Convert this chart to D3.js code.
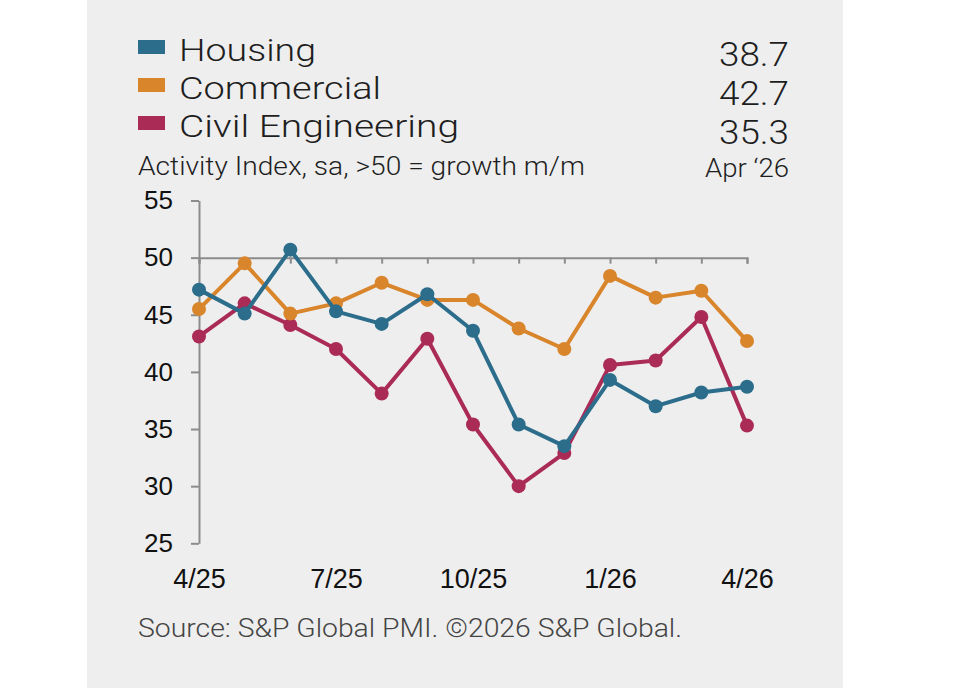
<!DOCTYPE html>
<html>
<head>
<meta charset="utf-8">
<script src="https://cdn.jsdelivr.net/npm/d3@7"></script>
<style>
  html, body { margin: 0; padding: 0; background: #ffffff; }
  svg { display: block; }
</style>
</head>
<body>
<svg id="chart" width="960" height="698"></svg>
<script>
// ---- Data ----
const months = ["4/25","5/25","6/25","7/25","8/25","9/25","10/25","11/25","12/25","1/26","2/26","3/26","4/26"];
const labelMonths = ["4/25","7/25","10/25","1/26","4/26"];
const yTicks = [25, 30, 35, 40, 45, 50, 55];
const seriesNames = ["Housing", "Commercial", "Civil Engineering"];
const housing    = [47.2, 45.1, 50.7, 45.3, 44.2, 46.8, 43.6, 35.4, 33.5, 39.3, 37.0, 38.2, 38.7];
const commercial = [45.5, 49.5, 45.1, 46.0, 47.8, 46.3, 46.3, 43.8, 42.0, 48.4, 46.5, 47.1, 42.7];
const civil      = [43.1, 46.0, 44.1, 42.0, 38.1, 42.9, 35.4, 30.0, 32.9, 40.6, 41.0, 44.8, 35.3];
const latestLabel = "Apr \u201826";
const subtitle = "Activity Index, sa, >50 = growth m/m";
const source = "Source: S&P Global PMI. \u00A92026 S&P Global.";

const colors = ["#2b6d8b", "#d9852c", "#ab2b57"];
const seriesValues = [housing, commercial, civil];

// ---- Layout ----
const svg = d3.select("#chart");
svg.append("rect").attr("x", 87).attr("y", 0).attr("width", 756).attr("height", 688).attr("fill", "#eeeeee");

const x = d3.scalePoint().domain(months).range([199, 747]);
const y = d3.scaleLinear().domain([25, 55]).range([543.3, 200.5]);

const axisColor = "#8c8c8c";

// Y axis
const gy = svg.append("g").attr("transform", "translate(199,0)")
  .call(d3.axisLeft(y).tickValues(yTicks).tickSize(8).tickSizeOuter(0).tickPadding(18).tickFormat(d3.format("d")));
gy.selectAll("path, line").attr("stroke", axisColor).attr("stroke-width", 2);
gy.selectAll("text").attr("font-family", "Liberation Sans, Arial, sans-serif").attr("font-size", 26).attr("fill", "#111");

// X axis line at 50
const gx = svg.append("g").attr("transform", `translate(0,${y(50)})`)
  .call(d3.axisBottom(x).tickSize(6).tickSizeOuter(6).tickFormat(""));
gx.selectAll("path, line").attr("stroke", axisColor).attr("stroke-width", 2);

// X labels at bottom
const gl = svg.append("g").attr("transform", "translate(0,588)")
  .call(d3.axisBottom(x).tickValues(labelMonths).tickSize(0).tickPadding(0));
gl.select(".domain").remove();
gl.selectAll("text").attr("y", 0).attr("dy", 0)
  .attr("font-family", "Liberation Sans, Arial, sans-serif").attr("font-size", 27).attr("fill", "#111");

// Series (draw Civil, Commercial, Housing so Housing on top)
const line = d3.line().x((d, i) => x(months[i])).y(d => y(d));
[2, 1, 0].forEach(si => {
  const g = svg.append("g");
  g.append("path").datum(seriesValues[si]).attr("d", line)
    .attr("fill", "none").attr("stroke", colors[si]).attr("stroke-width", 4).attr("stroke-linejoin", "round");
  g.selectAll("circle").data(seriesValues[si]).join("circle")
    .attr("cx", (d, i) => x(months[i])).attr("cy", d => y(d)).attr("r", 7).attr("fill", colors[si]);
});

// ---- Header / legend ----
const hf = "Roboto, 'Noto Sans', sans-serif";
const legendBase = [61, 99, 137];
const legendWidths = [137, 202, 280];
const valueBase = [65.5, 104.5, 143.5];
seriesNames.forEach((name, i) => {
  svg.append("rect").attr("x", 138).attr("y", legendBase[i] - 21).attr("width", 27).attr("height", 14).attr("fill", colors[i]);
  svg.append("text").attr("x", 179).attr("y", legendBase[i]).text(name)
    .attr("font-family", hf).attr("font-weight", 300).attr("font-size", 31).attr("fill", "#1e1e1e")
    .attr("textLength", legendWidths[i]).attr("lengthAdjust", "spacingAndGlyphs");
  const v = seriesValues[i][seriesValues[i].length - 1];
  svg.append("text").attr("x", 789).attr("y", valueBase[i]).attr("text-anchor", "end").text(d3.format(".1f")(v))
    .attr("font-family", hf).attr("font-weight", 300).attr("font-size", 34).attr("fill", "#1e1e1e")
    .attr("textLength", 70).attr("lengthAdjust", "spacingAndGlyphs");
});
svg.append("text").attr("x", 138).attr("y", 175).text(subtitle)
  .attr("font-family", hf).attr("font-weight", 300).attr("font-size", 25).attr("fill", "#1e1e1e")
  .attr("textLength", 447).attr("lengthAdjust", "spacingAndGlyphs");
svg.append("text").attr("x", 789).attr("y", 177).attr("text-anchor", "end").text(latestLabel)
  .attr("font-family", hf).attr("font-weight", 300).attr("font-size", 26).attr("fill", "#1e1e1e")
  .attr("textLength", 84).attr("lengthAdjust", "spacingAndGlyphs");
svg.append("text").attr("x", 138).attr("y", 637).text(source)
  .attr("font-family", hf).attr("font-weight", 300).attr("font-size", 26).attr("fill", "#444")
  .attr("textLength", 544).attr("lengthAdjust", "spacingAndGlyphs");
</script>
</body>
</html>
